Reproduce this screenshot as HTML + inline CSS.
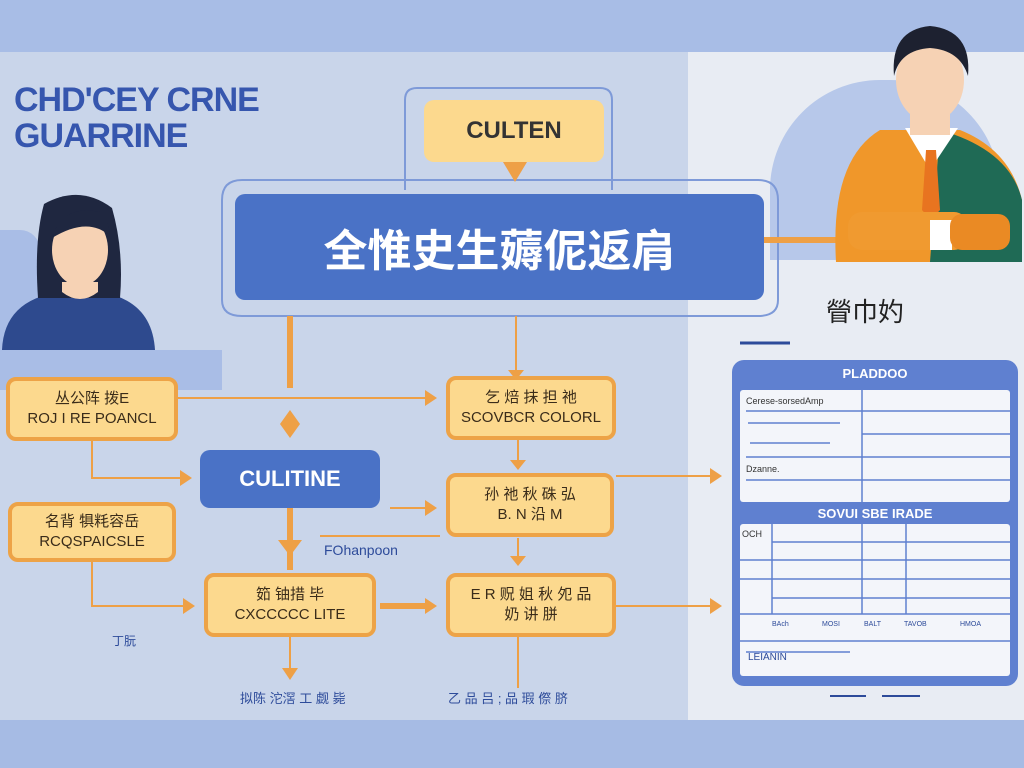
<!DOCTYPE html>
<html><head><meta charset="utf-8"><style>
body{margin:0;width:1024px;height:768px;overflow:hidden;background:#c9d5ea;position:relative;font-family:"Liberation Sans","Noto Sans CJK SC",sans-serif}
.a{position:absolute}
.ob{position:absolute;background:#fcd98e;border:4px solid #eda347;border-radius:10px;box-sizing:border-box;text-align:center;color:#3a2c1a;font-size:15px;line-height:20px;display:flex;flex-direction:column;justify-content:center}
.bb{position:absolute;background:#4a72c6;border-radius:10px;color:#fff;text-align:center;display:flex;align-items:center;justify-content:center}
.t{position:absolute;color:#2d4b9a;font-size:13px}
</style></head><body>
<div class="a" style="left:0;top:0;width:1024px;height:52px;background:#a8bde6"></div>
<div class="a" style="left:0;top:720px;width:1024px;height:48px;background:#a6bbe4"></div>
<div class="a" style="left:688px;top:52px;width:336px;height:668px;background:#e8ecf3"></div>
<div class="a" style="left:0;top:230px;width:40px;height:120px;background:#a9bde6;border-radius:0 20px 0 0"></div>
<div class="a" style="left:0;top:350px;width:222px;height:40px;background:#a9bde6"></div>
<div class="a" style="left:770px;top:80px;width:230px;height:180px;background:#b7c8ea;border-radius:110px 110px 0 0"></div>

<div class="a" style="left:14px;top:82px;color:#3656ae;font-size:34px;line-height:36px;letter-spacing:-1px;font-weight:bold">CHD'CEY CRNE<br>GUARRINE</div>

<svg class="a" style="left:0;top:0" width="1024" height="768">
<g fill="none" stroke="#7e9ad8" stroke-width="2">
<path d="M405 190 V100 Q405 88 417 88 H600 Q612 88 612 100 V190"/>
<path d="M222 200 Q222 180 242 180 H758 Q778 180 778 200 V300 Q778 316 758 316 H242 Q222 316 222 300 Z"/>
</g>
<g stroke="#eea046" stroke-width="2" fill="none">
<line x1="178" y1="398" x2="425" y2="398"/>
<path d="M92 440 V478 H180"/>
<path d="M92 560 V606 H185"/>
<line x1="516" y1="316" x2="516" y2="370"/>
<line x1="518" y1="440" x2="518" y2="462"/>
<line x1="518" y1="538" x2="518" y2="560"/>
<line x1="518" y1="636" x2="518" y2="688"/>
<line x1="616" y1="476" x2="710" y2="476"/>
<line x1="616" y1="606" x2="710" y2="606"/>
<line x1="290" y1="636" x2="290" y2="672"/>
<line x1="320" y1="536" x2="440" y2="536"/>
<line x1="390" y1="508" x2="425" y2="508"/>
</g>
<g stroke="#eea046" stroke-width="6"><line x1="290" y1="316" x2="290" y2="388"/><line x1="290" y1="506" x2="290" y2="570"/><line x1="380" y1="606" x2="425" y2="606"/><line x1="764" y1="240" x2="836" y2="240"/></g>
<g fill="#eea046">
<polygon points="425,390 437,398 425,406"/><polygon points="180,470 192,478 180,486"/><polygon points="183,598 195,606 183,614"/>
<polygon points="508,370 516,380 524,370"/><polygon points="510,460 518,470 526,460"/><polygon points="510,556 518,566 526,556"/>
<polygon points="710,468 722,476 710,484"/><polygon points="710,598 722,606 710,614"/><polygon points="282,668 290,680 298,668"/>
<polygon points="425,500 437,508 425,516"/><polygon points="425,598 437,606 425,614"/>
<polygon points="290,410 300,424 290,438 280,424"/><polygon points="278,540 302,540 290,556"/>
<polygon points="503,162 527,162 515,182"/>
</g>
<line x1="740" y1="343" x2="790" y2="343" stroke="#2d4b9a" stroke-width="3"/>
<line x1="830" y1="696" x2="866" y2="696" stroke="#2d4b9a" stroke-width="2"/><line x1="882" y1="696" x2="920" y2="696" stroke="#2d4b9a" stroke-width="2"/>
<!-- woman -->
<path d="M2 350 Q4 300 60 292 H100 Q152 300 155 350 Z" fill="#2e4a8e"/>
<path d="M44 204 Q80 184 112 208 Q124 250 120 298 H38 Q34 240 44 204Z" fill="#1f2740"/>
<ellipse cx="80" cy="250" rx="28" ry="36" fill="#f6d2b4"/>
<path d="M52 238 Q62 204 100 212 Q110 224 110 236 Q88 216 52 238Z" fill="#1f2740"/>
<path d="M62 292 Q80 306 98 292 V282 H62Z" fill="#f6d2b4"/>
<!-- man -->
<path d="M836 262 Q830 160 880 130 H960 Q1010 150 1022 200 V262 Z" fill="#f0972a"/>
<path d="M940 130 Q1010 150 1022 200 V262 H930 Z" fill="#1f6a55"/>
<path d="M905 128 L930 170 L958 128Z" fill="#fff"/>
<path d="M926 150 L936 150 L940 210 L931 220 L922 210Z" fill="#e87420"/>
<rect x="910" y="100" width="40" height="35" fill="#f6d2b4"/>
<ellipse cx="930" cy="80" rx="34" ry="42" fill="#f6d2b4"/>
<path d="M894 76 Q890 30 930 26 Q972 30 968 76 Q960 50 930 48 Q900 50 894 76Z" fill="#1d2130"/>
<rect x="848" y="212" width="120" height="38" rx="14" fill="#f09a30"/>
<rect x="930" y="220" width="22" height="30" fill="#fff"/>
<rect x="950" y="214" width="60" height="36" rx="12" fill="#ea8a24"/>
</svg>

<div class="ob" style="left:424px;top:100px;width:180px;height:62px;border:none;background:#fcd98e;font-size:24px;color:#333;font-weight:bold">CULTEN</div>
<div class="bb" style="left:235px;top:194px;width:529px;height:106px;font-size:44px;font-weight:bold">全惟史生薅伲返肩</div>
<div class="a" style="left:826px;top:292px;font-size:26px;color:#222">䁝巾妁</div>

<div class="ob" style="left:6px;top:377px;width:172px;height:64px">丛公阵 拨E<br>ROJ I RE POANCL</div>
<div class="ob" style="left:8px;top:502px;width:168px;height:60px">名背 犋粍容岳<br>RCQSPAICSLE</div>
<div class="bb" style="left:200px;top:450px;width:180px;height:58px;font-size:22px;font-weight:bold">CULITINE</div>
<div class="t" style="left:324px;top:542px;font-size:14px">FOhanpoon</div>
<div class="ob" style="left:204px;top:573px;width:172px;height:64px">筎 铀措 毕<br>CXCCCCC LITE</div>
<div class="t" style="left:112px;top:632px;font-size:12px">丁朊</div>
<div class="t" style="left:240px;top:688px">拟陈 沱滘 工 觑 毙</div>
<div class="ob" style="left:446px;top:376px;width:170px;height:64px">乞 焙 抹 担 祂<br>SCOVBCR COLORL</div>
<div class="ob" style="left:446px;top:473px;width:168px;height:64px">孙 祂 秋 硃 弘<br>B. N 沿 M</div>
<div class="ob" style="left:446px;top:573px;width:170px;height:64px">E R 贶 姐 秋 夗 品<br>奶 讲 胼</div>
<div class="t" style="left:448px;top:688px">乙 品 吕 ;   品 瑕 傺 脐</div>

<div class="a" style="left:732px;top:360px;width:286px;height:326px;background:#5f80d0;border-radius:12px"></div>
<div class="a" style="left:732px;top:366px;width:286px;text-align:center;color:#fff;font-size:13px;font-weight:bold">PLADDOO</div>
<div class="a" style="left:740px;top:390px;width:270px;height:112px;background:#f3f5fa;border-radius:3px">
<svg width="270" height="112"><g stroke="#5f80d0" stroke-width="1.5"><line x1="122" y1="0" x2="122" y2="112"/><line x1="6" y1="21" x2="270" y2="21"/><line x1="122" y1="44" x2="270" y2="44"/><line x1="6" y1="67" x2="270" y2="67"/><line x1="6" y1="90" x2="270" y2="90"/><line x1="8" y1="33" x2="100" y2="33"/><line x1="10" y1="53" x2="90" y2="53"/></g>
<text x="6" y="14" font-size="9" fill="#333">Cerese-sorsedAmp</text><text x="6" y="82" font-size="9" fill="#333">Dzanne.</text></svg></div>
<div class="a" style="left:732px;top:506px;width:286px;text-align:center;color:#fff;font-size:13px;font-weight:bold">SOVUI SBE IRADE</div>
<div class="a" style="left:740px;top:524px;width:270px;height:152px;background:#f3f5fa;border-radius:3px">
<svg width="270" height="152"><g stroke="#5f80d0" stroke-width="1.5"><line x1="32" y1="0" x2="32" y2="90"/><line x1="122" y1="0" x2="122" y2="90"/><line x1="166" y1="0" x2="166" y2="90"/><line x1="32" y1="18" x2="270" y2="18"/><line x1="0" y1="36" x2="270" y2="36"/><line x1="0" y1="55" x2="270" y2="55"/><line x1="32" y1="74" x2="270" y2="74"/><line x1="0" y1="90" x2="270" y2="90"/><line x1="0" y1="117" x2="270" y2="117"/><line x1="6" y1="128" x2="110" y2="128"/></g>
<text x="2" y="13" font-size="9" fill="#333">OCH</text>
<g font-size="7" fill="#2d4b9a"><text x="32" y="102">BAch</text><text x="82" y="102">MOSI</text><text x="124" y="102">BALT</text><text x="164" y="102">TAVOB</text><text x="220" y="102">HMOA</text></g>
<text x="8" y="136" font-size="10" fill="#2d4b9a">LEIANIN</text></svg></div>
</body></html>
